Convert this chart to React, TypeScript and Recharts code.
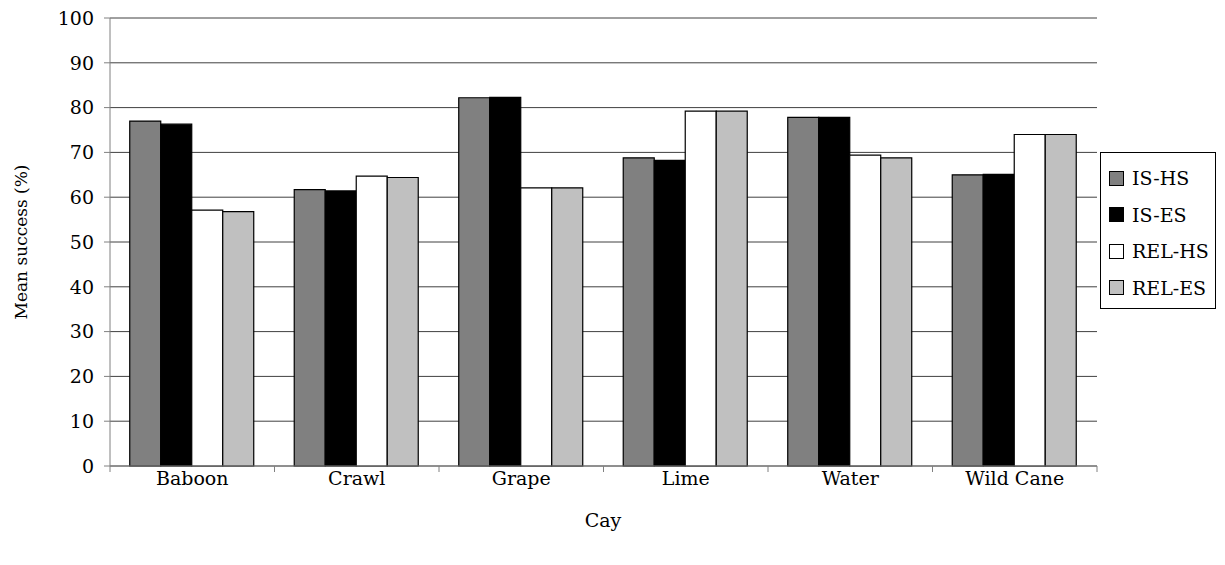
import React from 'react';
import {
    Bar,
    BarChart,
    CartesianGrid,
    Label,
    XAxis,
    YAxis,
} from 'recharts';

const cays = ['Baboon', 'Crawl', 'Grape', 'Lime', 'Water', 'Wild Cane'];
const isHs = [77.0, 61.7, 82.2, 68.8, 77.8, 65.0];
const isEs = [76.3, 61.4, 82.3, 68.2, 77.8, 65.1];
const relHs = [57.1, 64.7, 62.1, 79.2, 69.4, 74.0];
const relEs = [56.8, 64.4, 62.1, 79.2, 68.8, 74.0];
const yTicks = [0, 10, 20, 30, 40, 50, 60, 70, 80, 90, 100];

const seriesList = [
    {key: 'isHs', name: 'IS-HS', fill: '#808080'},
    {key: 'isEs', name: 'IS-ES', fill: '#000000'},
    {key: 'relHs', name: 'REL-HS', fill: '#ffffff'},
    {key: 'relEs', name: 'REL-ES', fill: '#c0c0c0'},
];

const data = cays.map((cay, i) => ({
    cay,
    isHs: isHs[i],
    isEs: isEs[i],
    relHs: relHs[i],
    relEs: relEs[i],
}));

const font = '"DejaVu Serif", serif';
const tickStyle = {fontFamily: font, fontSize: 19, fill: '#000'};

// category label plus tick marks on the category boundaries
const CayTick = (props: any) => {
    const {x, y, payload, index} = props;
    const half = payload.offset ?? 0;
    return (
        <g>
            <line x1={x - half} y1={y} x2={x - half} y2={y + 6} stroke="#808080"/>
            {index === cays.length - 1 && (
                <line x1={x + half} y1={y} x2={x + half} y2={y + 6} stroke="#808080"/>
            )}
            <text x={x} y={y + 6} dy="0.71em" textAnchor="middle" style={tickStyle}>
                {payload.value}
            </text>
        </g>
    );
};

const LegendBox = () => (
    <div style={{
        position: 'absolute',
        left: 1092,
        top: 144,
        border: '1px solid #000',
        width: 116,
        height: 157,
        boxSizing: 'border-box',
        padding: '7px 0 0 8px',
        fontFamily: font,
        fontSize: 19,
        background: '#fff',
    }}>
        {seriesList.map(s => (
            <div key={s.key} style={{display: 'flex', alignItems: 'center', height: 36.5}}>
                <span style={{
                    display: 'inline-block',
                    width: 13,
                    height: 13,
                    border: '1px solid #000',
                    background: s.fill,
                    marginRight: 8,
                }}/>
                <span>{s.name}</span>
            </div>
        ))}
    </div>
);

export default function App() {
    return (
        <div style={{position: 'relative', width: 1217, height: 557}}>
            <BarChart
                width={1217}
                height={557}
                data={data}
                margin={{top: 10, right: 128, left: 6, bottom: 69}}
                barCategoryGap="12%"
                barGap={0}
            >
                <CartesianGrid vertical={false} stroke="#404040" strokeWidth={1}/>
                <XAxis
                    dataKey="cay"
                    tickLine={false}
                    tickSize={0}
                    tickMargin={0}
                    axisLine={{stroke: '#808080'}}
                    tick={<CayTick/>}
                    height={30}
                    interval={0}
                >
                    <Label content={() => (
                        <text x={595} y={519} textAnchor="middle" style={tickStyle}>Cay</text>
                    )}/>
                </XAxis>
                <YAxis
                    domain={[0, 100]}
                    ticks={yTicks}
                    width={96}
                    tick={tickStyle}
                    tickLine={{stroke: '#808080'}}
                    axisLine={{stroke: '#808080'}}
                    tickSize={6}
                    tickMargin={10}
                    interval={0}
                >
                    <Label content={() => (
                        <text
                            x={14}
                            y={234}
                            textAnchor="middle"
                            dominantBaseline="middle"
                            transform="rotate(-90 14 234)"
                            style={{...tickStyle, fontSize: 17}}
                        >
                            Mean success (%)
                        </text>
                    )}/>
                </YAxis>
                {seriesList.map(s => (
                    <Bar
                        key={s.key}
                        dataKey={s.key}
                        name={s.name}
                        fill={s.fill}
                        stroke="#000"
                        strokeWidth={1.2}
                        isAnimationActive={false}
                    />
                ))}
            </BarChart>
            <LegendBox/>
        </div>
    );
}
